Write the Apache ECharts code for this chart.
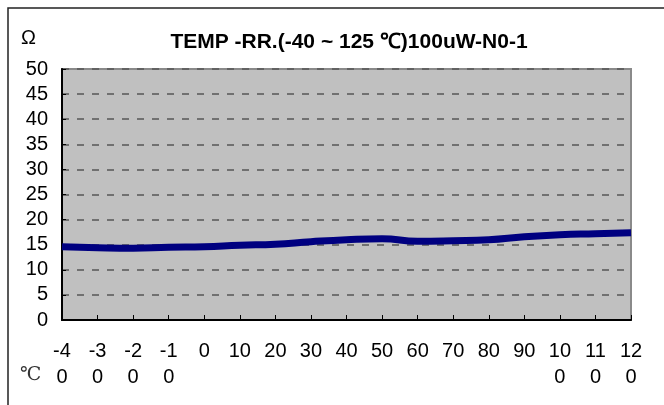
<!DOCTYPE html>
<html>
<head>
<meta charset="utf-8">
<script src="https://cdn.jsdelivr.net/npm/echarts@6/dist/echarts.min.js"></script>
<style>
  html, body { margin: 0; padding: 0; background: #fff; }
  #chart { width: 664px; height: 405px; }
</style>
</head>
<body>
<div id="chart"></div>
<script>
// 温度 (℃)
var temps = ['-40', '-30', '-20', '-10', '0', '10', '20', '30', '40', '50', '60', '70', '80', '90', '100', '110', '120']
// 电阻 (Ω)
var resist = [14.6, 14.4, 14.3, 14.5, 14.6, 14.9, 15.1, 15.6, 16.0, 16.2, 15.7, 15.8, 16.0, 16.6, 17.0, 17.2, 17.4]
var titleText = 'TEMP -RR.(-40 ~ 125 ℃)100uW-N0-1'

var font = 'Liberation Sans, Arial, sans-serif'
var myChart = echarts.init(document.getElementById('chart'))
var option = {
  animation: false,
  backgroundColor: '#fff',
  title: {
    text: titleText,
    left: 344,
    top: 27,
    textAlign: 'center',
    textStyle: {
      fontFamily: font,
      fontSize: 21,
      fontWeight: 'bold',
      color: '#000'
    }
  },
  graphic: [
    { // 外框
      type: 'rect',
      shape: { x: 8, y: 8, width: 700, height: 500 },
      style: { fill: 'none', stroke: '#222', lineWidth: 1.5 },
      silent: true
    },
    {
      type: 'text',
      left: 21,
      top: 28,
      style: { text: 'Ω', fontFamily: font, fontSize: 20, fill: '#000' }
    },
    {
      type: 'text',
      left: 20,
      top: 366,
      style: { text: '℃', fontFamily: 'DejaVu Serif, serif', fontSize: 19, fill: '#333' }
    }
  ],
  grid: {
    left: 62,
    right: 33,
    top: 69,
    bottom: 85,
    show: true,
    backgroundColor: '#c0c0c0',
    borderColor: '#8a8a8a',
    borderWidth: 2
  },
  xAxis: {
    type: 'category',
    boundaryGap: false,
    data: temps,
    axisLine: { show: true, lineStyle: { color: '#000', width: 2 } },
    axisTick: { show: true, inside: true, length: 5, lineStyle: { color: '#000', width: 1 } },
    axisLabel: {
      interval: 0,
      margin: 18,
      fontFamily: font,
      fontSize: 20,
      color: '#000',
      lineHeight: 26,
      formatter: function (v) {
        // 三位的标签折成两行
        return v.length > 2 ? v.slice(0, 2) + '\n' + v.slice(2) : v
      }
    },
    splitLine: { show: false }
  },
  yAxis: {
    type: 'value',
    min: 0,
    max: 50,
    interval: 5,
    axisLine: { show: true, lineStyle: { color: '#000', width: 2 } },
    axisTick: { show: true, inside: true, length: 4, lineStyle: { color: '#000' } },
    axisLabel: {
      margin: 14,
      fontFamily: font,
      fontSize: 20,
      color: '#000'
    },
    splitLine: {
      show: true,
      lineStyle: { color: '#555', width: 1.5, type: [7, 8] }
    }
  },
  series: [
    {
      type: 'line',
      data: resist,
      smooth: true,
      showSymbol: false,
      lineStyle: { color: '#000080', width: 7 },
      itemStyle: { color: '#000080' }
    }
  ]
}
myChart.setOption(option, true)
</script>
</body>
</html>
